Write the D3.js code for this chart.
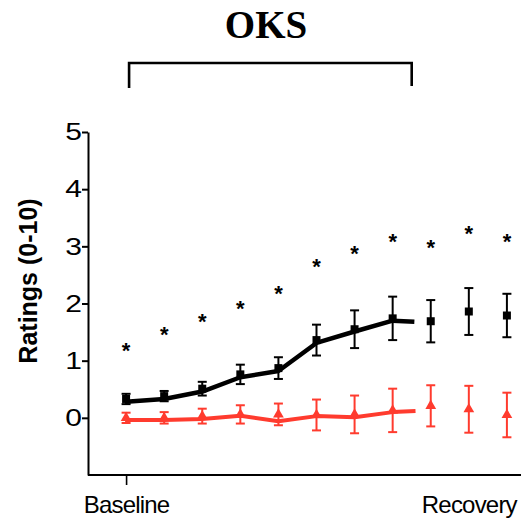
<!DOCTYPE html>
<html>
<head>
<meta charset="utf-8">
<script src="https://cdn.jsdelivr.net/npm/d3@7"></script>
<style>
  html, body { margin: 0; padding: 0; background: #fff; }
  svg { display: block; }
</style>
</head>
<body>
<svg id="chart" width="521" height="522"></svg>
<script>
// ---- data ----
const timepoints = [0, 1, 2, 3, 4, 5, 6, 7, 8, 9, 10];
const xTickLabels = ["Baseline", "Recovery"];
const xTickPositions = [0, 9];
const yTicks = [0, 1, 2, 3, 4, 5];

const blackMean = [0.33, 0.38, 0.51, 0.76, 0.87, 1.36, 1.55, 1.74, 1.69, 1.86, 1.79];
const blackErr  = [0.09, 0.09, 0.12, 0.17, 0.19, 0.27, 0.33, 0.38, 0.37, 0.41, 0.38];
const blackLineX = [0, 1, 2, 3, 4, 5, 6, 7, 7.57];
const blackLineY = [0.28, 0.33, 0.46, 0.71, 0.82, 1.31, 1.51, 1.70, 1.68];

const redMean = [0.00, 0.00, 0.03, 0.06, 0.06, 0.05, 0.06, 0.13, 0.21, 0.15, 0.05];
const redErr  = [0.09, 0.10, 0.13, 0.16, 0.19, 0.27, 0.33, 0.38, 0.36, 0.41, 0.39];
const redLineX = [0, 1, 2, 3, 4, 5, 6, 7, 7.6];
const redLineY = [-0.04, -0.04, -0.02, 0.035, -0.06, 0.03, 0.01, 0.10, 0.12];

const starY = [1.25, 1.53, 1.76, 1.99, 2.26, 2.72, 2.95, 3.17, 3.06, 3.30, 3.17];

const title = "OKS";
const yLabel = "Ratings (0-10)";

// ---- drawing ----
const svg = d3.select("#chart");
const black = "#000";
const red = "#ff3b2e";

const x = d3.scaleLinear().domain([-1, 10.37]).range([88, 521]);
const y = d3.scaleLinear().domain([-1, 5]).range([475, 132]);

// title and bracket
svg.append("text")
  .attr("x", 266).attr("y", 38)
  .attr("text-anchor", "middle")
  .attr("font-family", "'Liberation Serif', 'Times New Roman', serif")
  .attr("font-weight", "bold")
  .attr("font-size", 39)
  .text(title);

svg.append("path")
  .attr("d", `M${x(0) + 3},88 V63 H${x(7.5)} V86`)
  .attr("fill", "none").attr("stroke", black).attr("stroke-width", 2.6);

// y axis
const yAxis = svg.append("g")
  .attr("transform", `translate(88,0)`)
  .call(d3.axisLeft(y).tickValues(yTicks).tickFormat(d3.format("d")).tickSize(6).tickSizeOuter(0));
yAxis.select(".domain").attr("stroke", black).attr("stroke-width", 2);
yAxis.selectAll(".tick line").attr("stroke", black).attr("stroke-width", 2);
yAxis.selectAll(".tick text")
  .attr("font-family", "'Liberation Sans', Arial, sans-serif")
  .attr("font-size", 24)
  .attr("fill", black)
  .attr("dy", "0.32em")
  .attr("transform", "scale(1.25,1)")
  .attr("text-anchor", "end")
  .attr("x", -6 / 1.25);

// x axis
const xAxis = svg.append("g")
  .attr("transform", `translate(0,475)`)
  .call(d3.axisBottom(x).tickValues(xTickPositions)
    .tickFormat((d, i) => xTickLabels[i]).tickSize(10).tickSizeOuter(0));
xAxis.select(".domain").attr("stroke", black).attr("stroke-width", 2)
  .attr("d", `M88,0H521`);
xAxis.selectAll(".tick line").attr("stroke", black).attr("stroke-width", 1.6)
  .attr("opacity", (d, i) => i === 0 ? 1 : 0);
xAxis.selectAll(".tick text")
  .attr("y", 38)
  .attr("dy", 0)
  .attr("font-family", "'Liberation Sans', Arial, sans-serif")
  .attr("font-size", 24)
  .attr("letter-spacing", -0.8)
  .attr("fill", black);

// y label
svg.append("text")
  .attr("transform", `translate(37,281) rotate(-90)`)
  .attr("text-anchor", "middle")
  .attr("font-family", "'Liberation Sans', Arial, sans-serif")
  .attr("font-weight", "bold")
  .attr("font-size", 25)
  .text(yLabel);

// asterisks
svg.append("g").selectAll("text").data(timepoints).join("text")
  .attr("x", d => x(d))
  .attr("y", (d, i) => y(starY[i]) + 12)
  .attr("text-anchor", "middle")
  .attr("font-family", "'Liberation Sans', Arial, sans-serif")
  .attr("font-weight", "bold")
  .attr("font-size", 22)
  .text("*");

function drawSeries(color, mean, err, lineX, lineY, marker, lineW) {
  const g = svg.append("g");
  const line = d3.line().x(d => x(d[0])).y(d => y(d[1]));
  g.append("path")
    .datum(lineX.map((v, i) => [v, lineY[i]]))
    .attr("d", line)
    .attr("fill", "none").attr("stroke", color).attr("stroke-width", lineW)
    .attr("stroke-linejoin", "round");
  const eb = g.append("g").selectAll("g").data(timepoints).join("g");
  eb.append("line")
    .attr("x1", d => x(d)).attr("x2", d => x(d))
    .attr("y1", (d, i) => y(mean[i] + err[i])).attr("y2", (d, i) => y(mean[i] - err[i]))
    .attr("stroke", color).attr("stroke-width", 2);
  eb.append("line")
    .attr("x1", d => x(d) - 4.5).attr("x2", d => x(d) + 4.5)
    .attr("y1", (d, i) => y(mean[i] + err[i])).attr("y2", (d, i) => y(mean[i] + err[i]))
    .attr("stroke", color).attr("stroke-width", 2);
  eb.append("line")
    .attr("x1", d => x(d) - 4.5).attr("x2", d => x(d) + 4.5)
    .attr("y1", (d, i) => y(mean[i] - err[i])).attr("y2", (d, i) => y(mean[i] - err[i]))
    .attr("stroke", color).attr("stroke-width", 2);
  g.append("g").selectAll("path").data(timepoints).join("path")
    .attr("transform", (d, i) => `translate(${x(d)},${y(mean[i])})`)
    .attr("d", d3.symbol().type(marker).size(marker === d3.symbolSquare ? 64 : 50))
    .attr("fill", color);
}

drawSeries(red, redMean, redErr, redLineX, redLineY, d3.symbolTriangle, 4);
drawSeries(black, blackMean, blackErr, blackLineX, blackLineY, d3.symbolSquare, 4.5);
</script>
</body>
</html>
